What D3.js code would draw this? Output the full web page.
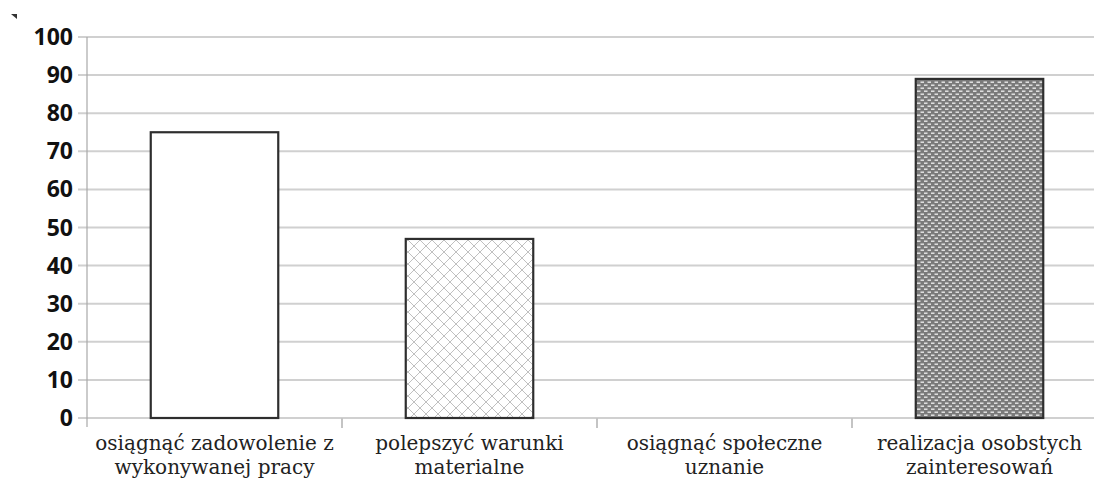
<!DOCTYPE html>
<html lang="pl">
<head>
<meta charset="utf-8" />
<title>chart</title>
<script src="https://d3js.org/d3.v7.min.js"></script>
<style>
  body { margin: 0; background: #fff; }
  .ylab { font-family: "Open Sans", sans-serif; }
</style>
</head>
<body>
<div id="myDiv"></div>
<script>
// data
var categories = [
  ["osiągnąć zadowolenie z", "wykonywanej pracy"],
  ["polepszyć warunki", "materialne"],
  ["osiągnąć społeczne", "uznanie"],
  ["realizacja osobstych", "zainteresowań"]
];
var values = [75, 47, 0, 89];
var fills = ["white", "url(#cross)", "white", "url(#dots)"];
var yTicks = [0, 10, 20, 30, 40, 50, 60, 70, 80, 90, 100];

var width = 1094, height = 481;
var plotLeft = 87, plotTop = 37, plotBottom = 418;
var step = 255;

var svg = d3.select("#myDiv").append("svg")
  .attr("width", width)
  .attr("height", height);

// patterns for the bars
var defs = svg.append("defs");
var cross = defs.append("pattern")
  .attr("id", "cross")
  .attr("patternUnits", "userSpaceOnUse")
  .attr("width", 12).attr("height", 12);
cross.append("rect").attr("width", 12).attr("height", 12).attr("fill", "white");
cross.append("path")
  .attr("d", "M0,0L12,12M12,0L0,12")
  .attr("stroke", "#c0c0c0")
  .attr("stroke-width", 1);

var dots = defs.append("pattern")
  .attr("id", "dots")
  .attr("patternUnits", "userSpaceOnUse")
  .attr("width", 7).attr("height", 6);
dots.append("rect").attr("width", 7).attr("height", 6).attr("fill", "#7a7a7a");
dots.append("rect").attr("x", 0).attr("y", 0.5).attr("width", 3.5).attr("height", 1.4).attr("fill", "#e8e8e8");
dots.append("rect").attr("x", 3.5).attr("y", 3.5).attr("width", 3.5).attr("height", 1.4).attr("fill", "#e8e8e8");

var yScale = d3.scaleLinear()
  .domain([0, 100])
  .range([plotBottom, plotTop]);

var xScale = d3.scaleBand()
  .domain(d3.range(categories.length))
  .range([plotLeft, plotLeft + step * categories.length])
  .paddingInner(0.5)
  .paddingOuter(0.25);

// gridlines
svg.append("g").selectAll("line")
  .data(yTicks)
  .enter().append("line")
    .attr("x1", 78).attr("x2", width)
    .attr("y1", function(d){ return yScale(d); })
    .attr("y2", function(d){ return yScale(d); })
    .attr("stroke", "#d0d0d0")
    .attr("stroke-width", 2);

// y axis line
svg.append("line")
  .attr("x1", plotLeft).attr("x2", plotLeft)
  .attr("y1", plotTop).attr("y2", plotBottom + 9)
  .attr("stroke", "#a8a8a8")
  .attr("stroke-width", 1.2);

// category separator ticks
svg.append("g").selectAll("line")
  .data(d3.range(1, categories.length))
  .enter().append("line")
    .attr("x1", function(i){ return plotLeft + step * i; })
    .attr("x2", function(i){ return plotLeft + step * i; })
    .attr("y1", plotBottom).attr("y2", plotBottom + 10)
    .attr("stroke", "#c4c4c4")
    .attr("stroke-width", 2);

// y labels
svg.append("g").selectAll("text")
  .data(yTicks)
  .enter().append("text")
    .attr("class", "ylab")
    .attr("x", 73)
    .attr("y", function(d){ return yScale(d) + 8; })
    .attr("text-anchor", "end")
    .attr("font-weight", "bold")
    .attr("font-size", 23)
    .attr("fill", "#111")
    .text(function(d){ return d; });

// bars
svg.append("g").selectAll("rect")
  .data(values)
  .enter().append("rect")
    .attr("x", function(d, i){ return xScale(i); })
    .attr("y", function(d){ return yScale(d); })
    .attr("width", xScale.bandwidth())
    .attr("height", function(d){ return plotBottom - yScale(d); })
    .attr("fill", function(d, i){ return fills[i]; })
    .attr("stroke", function(d){ return d > 0 ? "#2e2e2e" : "none"; })
    .attr("stroke-width", 2.2);

// x labels (serif, two lines each)
var labels = svg.append("g").selectAll("text")
  .data(categories)
  .enter().append("text")
    .style("font-family", "'DejaVu Serif', serif")
    .attr("text-anchor", "middle")
    .attr("font-size", 20)
    .attr("fill", "#222");
labels.each(function(lines, i){
  var t = d3.select(this);
  lines.forEach(function(s, j){
    t.append("tspan")
      .attr("x", xScale(i) + xScale.bandwidth() / 2)
      .attr("y", 450 + j * 24)
      .text(s);
  });
});

// small corner mark
svg.append("path")
  .attr("d", "M11,14L17,14L17,19Z")
  .attr("fill", "#333");
</script>
</body>
</html>
